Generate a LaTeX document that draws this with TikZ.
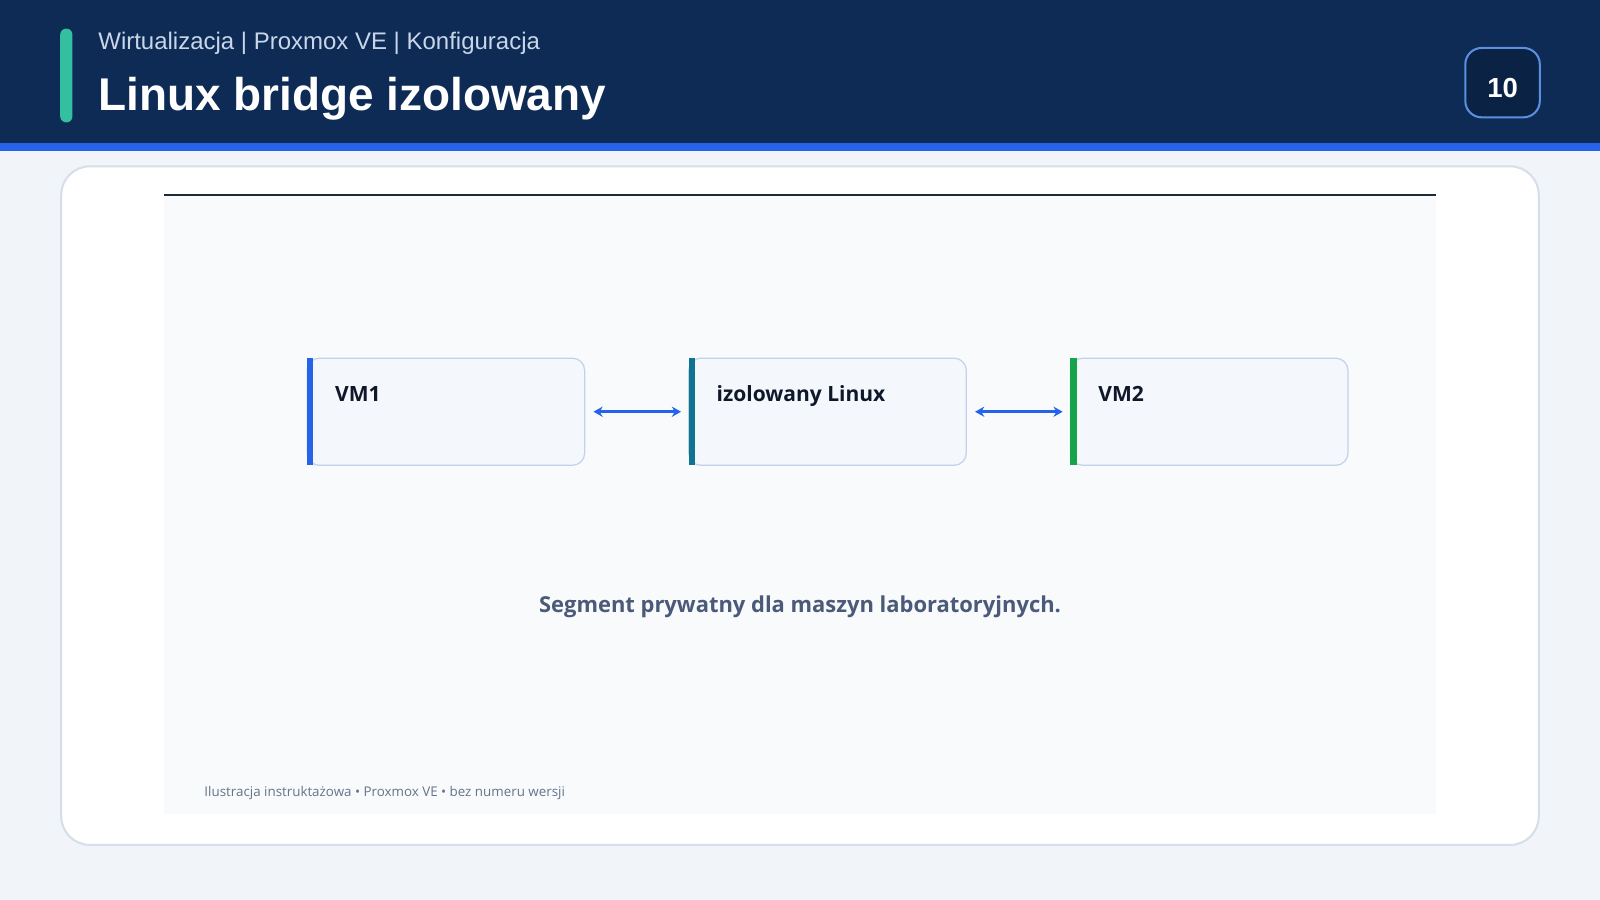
\documentclass[tikz,border=0pt]{standalone}
\usepackage{fontspec}
\setmainfont{Liberation Sans}
\newfontfamily\uifont{Open Sans}
\usetikzlibrary{arrows.meta}
\definecolor{pagebg}{HTML}{F1F5F9}
\definecolor{navy}{HTML}{0D2B55}
\definecolor{navydeep}{HTML}{0A2244}
\definecolor{stripe}{HTML}{2563EB}
\definecolor{accentgreen}{HTML}{34C0A0}
\definecolor{badgeborder}{HTML}{5B8FE0}
\definecolor{subtxt}{HTML}{C9D6EA}
\definecolor{cardborder}{HTML}{D6DEE9}
\definecolor{panelbg}{HTML}{F8FAFC}
\definecolor{panelline}{HTML}{1E293B}
\definecolor{boxfill}{HTML}{F4F7FC}
\definecolor{boxborder}{HTML}{C3D2EA}
\definecolor{cblue}{HTML}{2563EB}
\definecolor{cteal}{HTML}{0E7490}
\definecolor{cgreen}{HTML}{16A34A}
\definecolor{boxtxt}{HTML}{0F172A}
\definecolor{captxt}{HTML}{4A5A78}
\definecolor{foottxt}{HTML}{64748B}
\tikzset{
  badge/.style={draw=badgeborder, fill=navydeep, line width=1pt, rounded corners=8pt,
    minimum width=36.5pt, minimum height=34pt, inner sep=0pt},
  box/.style={draw=boxborder, fill=boxfill, line width=0.6pt, rounded corners=6pt,
    minimum width=136pt, minimum height=52.5pt, inner sep=0pt},
  boxlabel/.style={anchor=base west, inner sep=0pt, text=boxtxt,
    font=\uifont\fontsize{10.3}{12}\selectfont\bfseries},
  arr/.style={draw=cblue, line width=1.5pt, {Stealth[length=4.5pt,width=5pt]}-{Stealth[length=4.5pt,width=5pt]}},
}
\begin{document}
\begin{tikzpicture}[x=0.5pt,y=-0.5pt]
\useasboundingbox (0,0) rectangle (1568,882);
\fill[pagebg] (0,0) rectangle (1568,882);
% header
\fill[navy] (0,0) rectangle (1568,140);
\fill[stripe] (0,140) rectangle (1568,148);
\fill[accentgreen, rounded corners=3pt] (59,28) rectangle (71,120);
\node[anchor=base west, inner sep=0pt, text=subtxt, font=\fontsize{11.75}{14}\selectfont] (sub) at (96,49) {Wirtualizacja | Proxmox VE | Konfiguracja};
\node[anchor=base west, inner sep=0pt, text=white, font=\fontsize{22.5}{27}\selectfont\bfseries] (title) at (96,108) {Linux bridge izolowany};
\node[badge] (badge) at (1472.5,81) {};
\node[anchor=base, inner sep=0pt, text=white, font=\fontsize{13.5}{16}\selectfont\bfseries] (badgenum) at (1472.5,96) {10};
% card
\draw[draw=cardborder, fill=white, line width=1pt, rounded corners=14pt] (60,163) rectangle (1508,828);
\fill[panelbg] (161,191) rectangle (1407,798);
\draw[panelline, line width=1pt] (161,191) -- (1407,191);
% boxes
\node[box] (vm1) at (437,403.5) {};
\node[box] (mid) at (811,403.5) {};
\node[box] (vm2) at (1185,403.5) {};
\fill[cblue] (301,351) rectangle (307,456);
\fill[cteal] (675,351) rectangle (681,456);
\fill[cgreen] (1049,351) rectangle (1055,456);
\node[boxlabel] (vm1t) at (328,393) {VM1};
\node[boxlabel] (midt) at (702,393) {izolowany Linux};
\node[boxlabel] (vm2t) at (1076,393) {VM2};
% connectors
\draw[arr] ([xshift=4pt]vm1.east) -- ([xshift=-3.5pt]mid.west);
\draw[arr] ([xshift=4pt]mid.east) -- ([xshift=-3.5pt]vm2.west);
% texts
\node[anchor=base, inner sep=0pt, text=captxt, font=\uifont\fontsize{10.75}{13}\selectfont\bfseries] (cap) at (784,600) {Segment prywatny dla maszyn laboratoryjnych.};
\node[anchor=base west, inner sep=0pt, text=foottxt, font=\uifont\fontsize{6.55}{8}\selectfont] (foot) at (200,781) {Ilustracja instruktażowa • Proxmox VE • bez numeru wersji};
\end{tikzpicture}
\end{document}
